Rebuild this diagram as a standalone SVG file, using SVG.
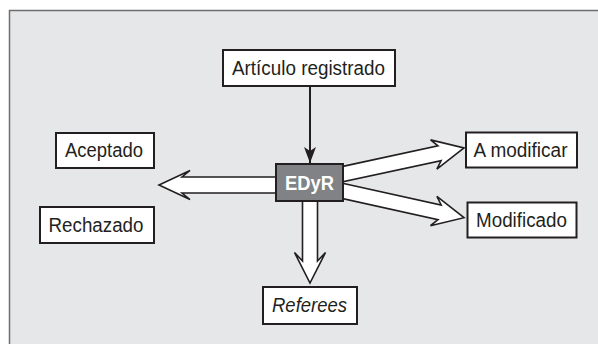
<svg xmlns="http://www.w3.org/2000/svg" width="598" height="344" viewBox="0 0 598 344">
<defs>
<style>
.box{fill:#fff;stroke:#231f20;stroke-width:2}
.lbl{font-family:"Liberation Sans",Arial,Helvetica,sans-serif;font-size:20px;fill:#231f20}
.arrow{fill:#fff;stroke:#231f20;stroke-width:1.6;stroke-linejoin:miter}
.line{fill:none;stroke:#231f20;stroke-width:2}
</style>
<marker id="ah" viewBox="0 0 16 12" refX="16" refY="6" markerWidth="16" markerHeight="12" markerUnits="userSpaceOnUse" orient="auto">
<path d="M0,0 L16,6 L0,12 L4,6 z" fill="#231f20"/>
</marker>
</defs>
<rect width="598" height="344" fill="#fff"/>
<rect x="9.5" y="10.5" width="600" height="340" fill="#e6e7e8" stroke="#6d6e71" stroke-width="1.5"/>
<g id="connectors">
<line class="line" x1="310" y1="86" x2="310" y2="163" marker-end="url(#ah)"/>
<polygon class="arrow" points="280,177 182,177 190,170.5 159,185 190,199.5 182,193 280,193"/>
<polygon class="arrow" points="302.5,197 302.5,261 294.5,252.5 310,283 325.5,252.5 317.5,261 317.5,197"/>
<polygon class="arrow" points="336.8,182.0 441.2,205.0 436.9,196.4 464,217.7 430.5,225.7 438.0,219.6 333.6,196.6"/>
<polygon class="arrow" points="333.6,168.4 438.0,145.9 430.6,139.9 464,148 436.9,169.2 441.1,160.6 336.8,183.0"/>
</g>
<g id="articulo">
<rect class="box" x="223" y="50" width="172" height="36"/>
<text class="lbl" x="232" y="75" textLength="153" lengthAdjust="spacingAndGlyphs">Artículo registrado</text>
</g>
<g id="aceptado">
<rect class="box" x="56" y="133" width="98" height="35"/>
<text class="lbl" x="65" y="157" textLength="78" lengthAdjust="spacingAndGlyphs">Aceptado</text>
</g>
<g id="rechazado">
<rect class="box" x="40" y="207" width="114" height="36"/>
<text class="lbl" x="48.5" y="232" textLength="95" lengthAdjust="spacingAndGlyphs">Rechazado</text>
</g>
<g id="edyr">
<rect x="276" y="164" width="67" height="37" fill="#808285" stroke="#231f20" stroke-width="2"/>
<text class="lbl" x="285" y="190" textLength="49" lengthAdjust="spacingAndGlyphs" style="font-weight:bold;fill:#fff">EDyR</text>
</g>
<g id="amodificar">
<rect class="box" x="466" y="132.5" width="111" height="35"/>
<text class="lbl" x="473.5" y="157" textLength="94" lengthAdjust="spacingAndGlyphs">A modificar</text>
</g>
<g id="modificado">
<rect class="box" x="467.5" y="202.5" width="109" height="35"/>
<text class="lbl" x="476" y="227" textLength="91" lengthAdjust="spacingAndGlyphs">Modificado</text>
</g>
<g id="referees">
<rect class="box" x="263" y="287" width="94" height="37"/>
<text class="lbl" x="272" y="312" textLength="75" lengthAdjust="spacingAndGlyphs" style="font-style:italic">Referees</text>
</g>
</svg>
